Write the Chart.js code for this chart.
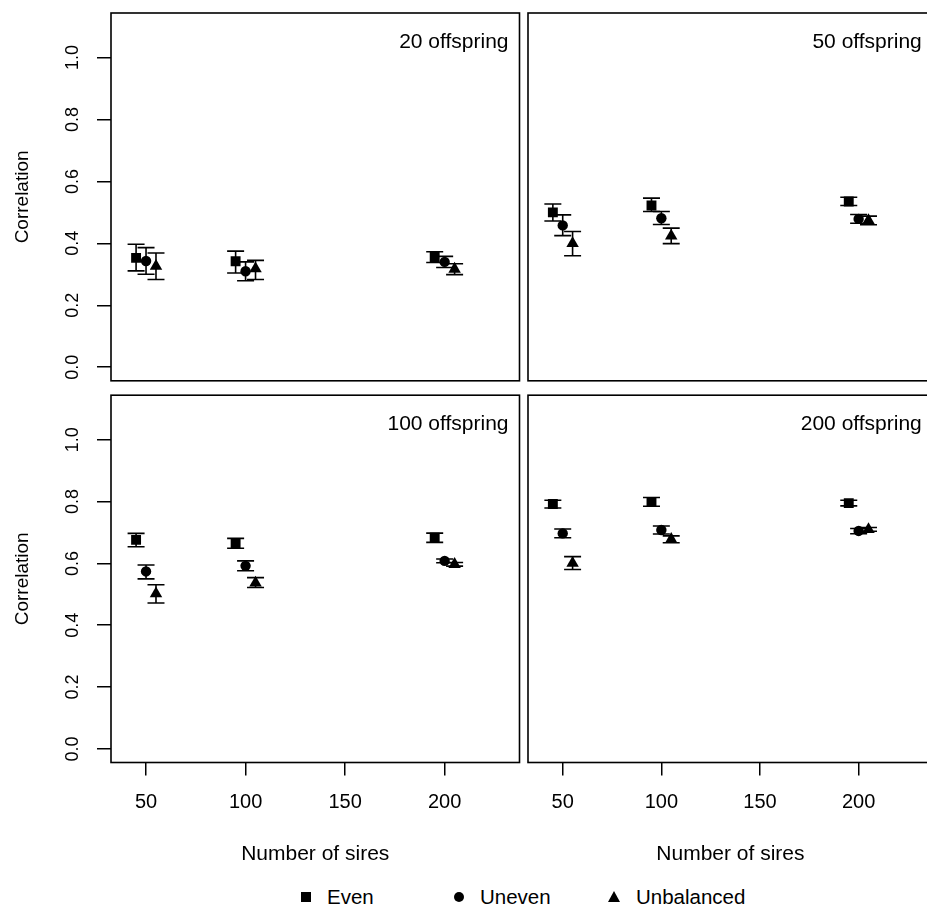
<!DOCTYPE html>
<html>
<head>
<meta charset="utf-8">
<script src="https://cdn.jsdelivr.net/npm/chart.js@4"></script>
<style>
  html, body { margin: 0; padding: 0; background: #fff; overflow: hidden; }
  body { width: 927px; height: 907px; position: relative; font-family: "Liberation Sans", Arial, sans-serif; }
  canvas { position: absolute; }
  .leg { position: absolute; top: 885px; font-size: 20.5px; line-height: 24px; color: #000; }
  .mk { position: absolute; background: #000; }
</style>
</head>
<body>
<canvas id="p20" width="530" height="388" style="left:0;top:0"></canvas>
<canvas id="p50" width="420" height="388" style="left:520px;top:0"></canvas>
<canvas id="p100" width="530" height="487" style="left:0;top:388px"></canvas>
<canvas id="p200" width="420" height="487" style="left:520px;top:388px"></canvas>

<div class="mk" style="left:301px;top:892px;width:10px;height:10px"></div>
<div class="leg" style="left:327px">Even</div>
<div class="mk" style="left:454px;top:892px;width:10px;height:10px;border-radius:50%"></div>
<div class="leg" style="left:480px">Uneven</div>
<div style="position:absolute;left:608px;top:891px;width:0;height:0;border-left:6.5px solid transparent;border-right:6.5px solid transparent;border-bottom:11px solid #000"></div>
<div class="leg" style="left:636px">Unbalanced</div>

<script>
// number of sires, one group per tick
var sires = [50, 100, 200];
var panelNames = ['20 offspring', '50 offspring', '100 offspring', '200 offspring'];
var xTicks = [50, 100, 150, 200];
var yTicks = [0, 0.2, 0.4, 0.6, 0.8, 1.0];

// one row per panel (20, 50, 100, 200 offspring), one column per sires group
var evenMean = [[0.353, 0.342, 0.356], [0.500, 0.522, 0.535], [0.676, 0.665, 0.683], [0.792, 0.799, 0.795]];
var evenLo   = [[0.311, 0.304, 0.338], [0.472, 0.503, 0.522], [0.654, 0.649, 0.668], [0.779, 0.785, 0.786]];
var evenHi   = [[0.397, 0.375, 0.373], [0.527, 0.546, 0.549], [0.697, 0.681, 0.698], [0.804, 0.813, 0.804]];

var unevenMean = [[0.343, 0.310, 0.340], [0.458, 0.481, 0.479], [0.574, 0.592, 0.608], [0.697, 0.708, 0.705]];
var unevenLo   = [[0.300, 0.279, 0.322], [0.425, 0.461, 0.465], [0.550, 0.576, 0.602], [0.683, 0.695, 0.696]];
var unevenHi   = [[0.386, 0.340, 0.358], [0.492, 0.503, 0.493], [0.595, 0.608, 0.614], [0.711, 0.721, 0.713]];

var unbalMean = [[0.326, 0.318, 0.317], [0.400, 0.424, 0.474], [0.502, 0.537, 0.597], [0.601, 0.678, 0.710]];
var unbalLo   = [[0.283, 0.283, 0.299], [0.360, 0.399, 0.460], [0.472, 0.522, 0.591], [0.580, 0.667, 0.704]];
var unbalHi   = [[0.369, 0.345, 0.334], [0.438, 0.449, 0.488], [0.531, 0.554, 0.603], [0.622, 0.689, 0.716]];

Chart.defaults.font.family = '"Liberation Sans", Arial, sans-serif';
Chart.defaults.color = '#000';

// side by side shift of the three series inside a group
var dodge = [-5, 0, 5];

function points(mean, lo, hi, k, shift) {
  return sires.map(function (s, i) {
    return { x: s + shift, y: mean[k][i], lo: lo[k][i], hi: hi[k][i] };
  });
}

var errorBars = {
  id: 'errorBars',
  beforeDatasetsDraw: function (chart) {
    var ctx = chart.ctx, x = chart.scales.x, y = chart.scales.y;
    ctx.save();
    ctx.strokeStyle = '#000';
    ctx.lineWidth = 1.6;
    chart.data.datasets.forEach(function (ds) {
      ds.data.forEach(function (p) {
        var px = x.getPixelForValue(p.x);
        var ylo = y.getPixelForValue(p.lo), yhi = y.getPixelForValue(p.hi);
        ctx.beginPath();
        ctx.moveTo(px, ylo); ctx.lineTo(px, yhi);
        ctx.moveTo(px - 8.5, ylo); ctx.lineTo(px + 8.5, ylo);
        ctx.moveTo(px - 8.5, yhi); ctx.lineTo(px + 8.5, yhi);
        ctx.stroke();
      });
    });
    ctx.restore();
  },
  afterDraw: function (chart, args, opts) {
    var ctx = chart.ctx, a = chart.chartArea;
    ctx.save();
    ctx.strokeStyle = '#000';
    ctx.lineWidth = 1.6;
    ctx.strokeRect(a.left, a.top, a.right - a.left, a.bottom - a.top);
    ctx.fillStyle = '#000';
    ctx.font = '21px "Liberation Sans", Arial, sans-serif';
    ctx.textAlign = 'right';
    ctx.textBaseline = 'middle';
    ctx.fillText(opts.label, a.right - 11, a.top + 29);
    ctx.restore();
  }
};

function makePanel(id, k, showX, showY) {
  var pad = showY ? { top: 0, right: 10.5, left: 0 } : { top: 0, right: 3.5, left: 8 };
  pad.top = showX ? 5 : 13;
  pad.bottom = showX ? 0 : 6;
  new Chart(document.getElementById(id), {
    type: 'scatter',
    data: {
      datasets: [
        { label: 'Even', data: points(evenMean, evenLo, evenHi, k, dodge[0]), pointStyle: 'rect', pointRadius: 7 },
        { label: 'Uneven', data: points(unevenMean, unevenLo, unevenHi, k, dodge[1]), pointStyle: 'circle', pointRadius: 5.2 },
        { label: 'Unbalanced', data: points(unbalMean, unbalLo, unbalHi, k, dodge[2]), pointStyle: 'triangle', pointRadius: 7.2 }
      ]
    },
    options: {
      responsive: false,
      animation: false,
      events: [],
      layout: { padding: pad },
      elements: { point: { backgroundColor: '#000', borderColor: '#000', borderWidth: 0 } },
      plugins: {
        legend: { display: false },
        tooltip: { enabled: false },
        errorBars: { label: panelNames[k] }
      },
      scales: {
        x: {
          type: 'linear', min: 32.4, max: 237.6, display: showX,
          afterBuildTicks: function (s) { s.ticks = xTicks.map(function (v) { return { value: v }; }); },
          afterFit: function (s) {
            s.height = showX ? 112.5 : 0;
            s.paddingLeft = s.paddingRight = s.paddingTop = s.paddingBottom = 0;
          },
          grid: { drawOnChartArea: false, tickLength: 13, color: '#000', lineWidth: 1.5 },
          border: { display: false },
          ticks: { font: { size: 20 }, padding: 15, autoSkip: false, maxRotation: 0 },
          title: { display: true, text: 'Number of sires', font: { size: 21 }, padding: { top: 0, bottom: 8 } }
        },
        y: {
          type: 'linear', min: -0.044, max: 1.144, display: showY,
          afterBuildTicks: function (s) { s.ticks = yTicks.map(function (v) { return { value: v }; }); },
          afterFit: function (s) {
            s.width = showY ? 111 : 0;
            s.paddingLeft = s.paddingRight = s.paddingTop = s.paddingBottom = 0;
          },
          grid: { drawOnChartArea: false, tickLength: 14, color: '#000', lineWidth: 1.5 },
          border: { display: false },
          ticks: {
            font: { size: 18 }, padding: 11.5, crossAlign: 'center', minRotation: 90, maxRotation: 90,
            callback: function (v) { return v.toFixed(1); }
          },
          title: { display: true, text: 'Correlation', font: { size: 19 }, padding: { top: 11, bottom: 0 } }
        }
      }
    },
    plugins: [errorBars]
  });
}

makePanel('p20', 0, false, true);
makePanel('p50', 1, false, false);
makePanel('p100', 2, true, true);
makePanel('p200', 3, true, false);
</script>
</body>
</html>
